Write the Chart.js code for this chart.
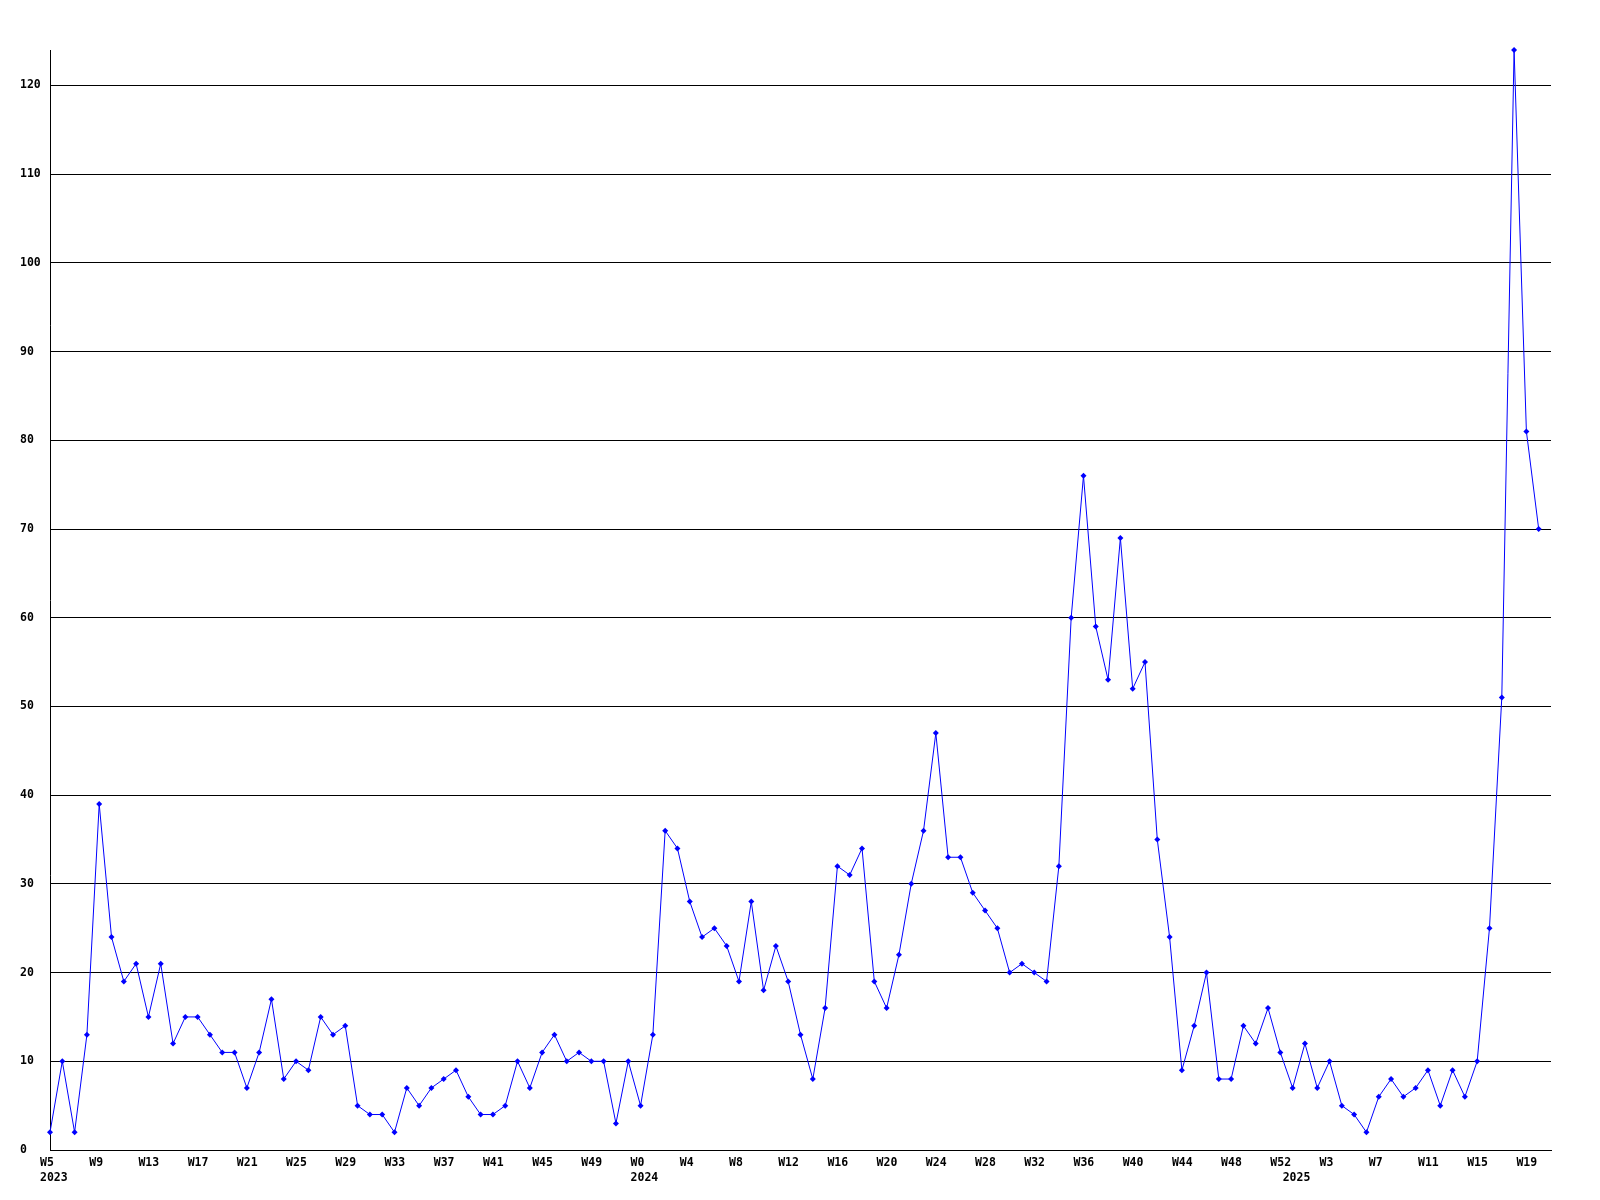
<!DOCTYPE html>
<html>
<head>
<meta charset="utf-8">
<script src="https://cdn.jsdelivr.net/npm/chart.js@4/dist/chart.umd.min.js"></script>
<style>
body { margin: 0; background: #fff; }
#wrap { width: 1600px; height: 1200px; }
</style>
</head>
<body>
<div id="wrap"><canvas id="weekChart"></canvas></div>
<script>
var years = ['2023', '2024', '2025'];

var weeks = [
    'W5','W6','W7','W8','W9','W10','W11','W12','W13','W14','W15','W16','W17','W18','W19','W20',
    'W21','W22','W23','W24','W25','W26','W27','W28','W29','W30','W31','W32','W33','W34','W35','W36',
    'W37','W38','W39','W40','W41','W42','W43','W44','W45','W46','W47','W48','W49','W50','W51','W52',
    'W0','W1','W2','W3','W4','W5','W6','W7','W8','W9','W10','W11','W12','W13','W14','W15','W16',
    'W17','W18','W19','W20','W21','W22','W23','W24','W25','W26','W27','W28','W29','W30','W31','W32',
    'W33','W34','W35','W36','W37','W38','W39','W40','W41','W42','W43','W44','W45','W46','W47','W48',
    'W49','W50','W51','W52',
    'W0','W1','W2','W3','W4','W5','W6','W7','W8','W9','W10','W11','W12','W13','W14','W15','W16',
    'W17','W18','W19','W20'
];

var counts = [
    2,10,2,13,39,24,19,21,15,21,12,15,15,13,11,11,
    7,11,17,8,10,9,15,13,14,5,4,4,2,7,5,7,
    8,9,6,4,4,5,10,7,11,13,10,11,10,10,3,10,
    5,13,36,34,28,24,25,23,19,28,18,23,19,13,8,16,32,
    31,34,19,16,22,30,36,47,33,33,29,27,25,20,21,20,
    19,32,60,76,59,53,69,52,55,35,24,9,14,20,8,8,
    14,12,16,11,
    7,12,7,10,5,4,2,6,8,6,7,9,5,9,6,10,25,
    51,124,81,70
];

var label_every = 4;
var tick_font = { family: 'DejaVu Sans Mono', weight: 'bold', size: 11.5, lineHeight: '15px' };

// year label goes under the first week of each year
var year_at = {};
var yr = 0;
for (var i = 0; i < weeks.length; i++) {
    var wn = Number(weeks[i].substring(1));
    if (i > 0 && wn < Number(weeks[i - 1].substring(1))) { yr = yr + 1; }
    if (i == 0 || wn < Number(weeks[i - 1].substring(1))) { year_at[i] = years[yr]; }
}

var points = [];
for (var i = 0; i < counts.length; i++) {
    points.push({ x: i, y: counts[i] });
}

function week_tick(value) {
    var i = Math.round(value);
    var top = (i < weeks.length && i % label_every == 0) ? weeks[i] : '';
    if (year_at[i] !== undefined) { return [top, year_at[i]]; }
    return top;
}

var ctx = document.getElementById('weekChart').getContext('2d');
window.week_chart = new Chart(ctx, {
    type: 'line',
    data: {
        datasets: [{
            data: points,
            borderColor: '#0000ff',
            backgroundColor: '#0000ff',
            borderWidth: 1,
            tension: 0,
            pointStyle: 'rectRot',
            pointRadius: 3,
            pointBorderWidth: 0,
            clip: false
        }]
    },
    options: {
        responsive: true,
        maintainAspectRatio: false,
        animation: false,
        layout: { padding: { top: 50, left: 20, right: 49, bottom: 0 } },
        plugins: {
            legend: { display: false },
            tooltip: { enabled: false }
        },
        scales: {
            x: {
                type: 'linear',
                min: 0,
                max: weeks.length,
                grid: { display: false },
                border: { display: true, color: '#000', width: 1 },
                ticks: {
                    stepSize: 1,
                    autoSkip: false,
                    maxRotation: 0,
                    minRotation: 0,
                    align: 'start',
                    labelOffset: -10,
                    padding: -2,
                    color: '#000',
                    font: tick_font,
                    callback: week_tick
                },
                afterFit: function(scale) { scale.height = 50; }
            },
            y: {
                min: 0,
                max: Math.max.apply(null, counts),
                grid: { color: '#000', lineWidth: 1, drawTicks: false },
                border: { display: true, color: '#000', width: 1 },
                ticks: {
                    stepSize: 10,
                    includeBounds: false,
                    crossAlign: 'far',
                    color: '#000',
                    font: tick_font
                },
                afterFit: function(scale) { scale.width = 30; }
            }
        }
    }
});
</script>
</body>
</html>
